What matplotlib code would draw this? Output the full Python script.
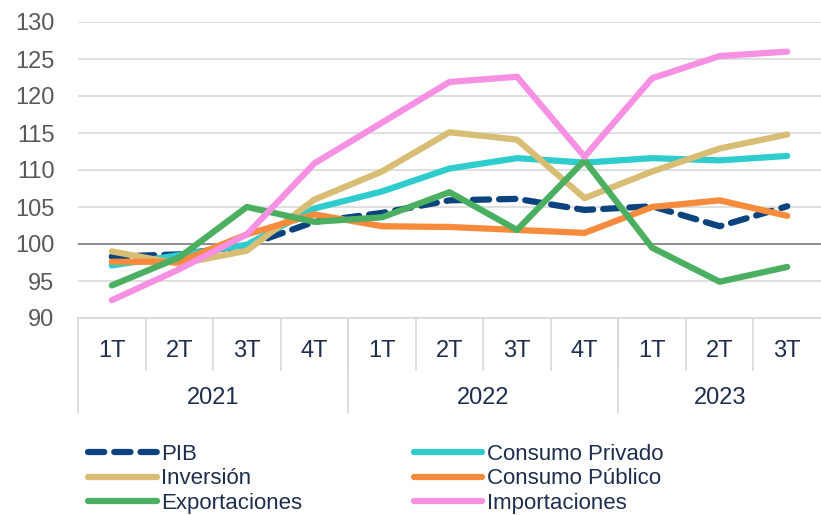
import matplotlib
matplotlib.use('Agg')
import matplotlib.pyplot as plt
import matplotlib.transforms as mtransforms

quarters = ['1T', '2T', '3T', '4T', '1T', '2T', '3T', '4T', '1T', '2T', '3T']
years = ['2021', '2022', '2023']
year_len = [4, 4, 3]

pib = [98.3, 98.6, 99.8, 103.0, 104.2, 105.9, 106.1, 104.6, 105.1, 102.4, 105.1]
cons_priv = [97.1, 98.5, 99.9, 104.8, 107.1, 110.2, 111.6, 111.0, 111.6, 111.3, 111.9]
inversion = [99.0, 97.3, 99.1, 106.0, 109.8, 115.1, 114.1, 106.2, 109.8, 112.9, 114.8]
cons_pub = [97.6, 97.6, 101.3, 104.0, 102.4, 102.3, 101.9, 101.5, 105.0, 105.9, 103.8]
export = [94.4, 98.2, 105.0, 103.0, 103.6, 107.0, 101.9, 111.3, 99.5, 94.9, 96.9]
importac = [92.4, 96.6, 101.3, 110.9, 116.4, 121.9, 122.6, 111.8, 122.4, 125.4, 126.0]

plt.rcParams['font.family'] = ['Liberation Sans', 'DejaVu Sans']

fig = plt.figure(figsize=(8.21, 5.15), dpi=100)
ax = fig.add_axes([78/821, 1-318/515, 1-78/821, 296/515])

x = list(range(len(quarters)))
ax.plot(x, pib, color='#0B437F', lw=4.5, ls=(0, (2.6, 1.6)), dash_capstyle='round',
        solid_capstyle='round', label='PIB', zorder=3)
ax.plot(x, cons_priv, color='#2ECCCC', lw=4.5, solid_capstyle='round', label='Consumo Privado', zorder=3)
ax.plot(x, inversion, color='#D8BD74', lw=4.5, solid_capstyle='round', label='Inversión', zorder=3)
ax.plot(x, cons_pub, color='#F68B3C', lw=4.5, solid_capstyle='round', label='Consumo Público', zorder=3)
ax.plot(x, export, color='#4BAF62', lw=4.5, solid_capstyle='round', label='Exportaciones', zorder=3)
ax.plot(x, importac, color='#F590E3', lw=4.5, solid_capstyle='round', label='Importaciones', zorder=3)

ax.set_ylim(90, 130)
ax.set_xlim(-0.5, len(quarters) - 0.5)
ax.set_yticks(range(90, 131, 5))
ax.grid(axis='y', color='#D9D9D9', lw=1.2)
ax.axhline(100, color='#7F7F7F', lw=1.2, zorder=2)
ax.set_axisbelow(True)
for s in ax.spines.values():
    s.set_visible(False)
ax.tick_params(axis='y', length=0, labelsize=17, labelcolor='#595959', pad=17)
ax.set_xticks([])

# category axis with two levels
tr = mtransforms.blended_transform_factory(ax.transData, ax.transAxes)
sep = '#D9D9D9'
ax.plot([-0.5, len(quarters) - 0.5], [0, 0], transform=tr, color=sep, lw=1.2, clip_on=False)
for i, q in enumerate(quarters):
    ax.text(i, -0.111, q, transform=tr, ha='center', va='center', fontsize=17, color='#1F2D4D')
    if i > 0:
        ax.plot([i - 0.5, i - 0.5], [0, -0.176], transform=tr, color=sep, lw=1.2, clip_on=False)
start = 0
for y, n in zip(years, year_len):
    ax.text(start + n / 2 - 0.5, -0.27, y, transform=tr, ha='center', va='center', fontsize=17, color='#1F2D4D')
    ax.plot([start - 0.5, start - 0.5], [0, -0.32], transform=tr, color=sep, lw=1.2, clip_on=False)
    start += n

h, l = ax.get_legend_handles_labels()
order = [0, 2, 4, 1, 3, 5]
leg = fig.legend([h[i] for i in order], [l[i] for i in order], ncol=2,
                 loc='upper left', bbox_to_anchor=(88/821, 1-444/515), frameon=False,
                 fontsize=16, handlelength=3.1, handletextpad=0.2, labelspacing=0.15,
                 columnspacing=5.0, borderaxespad=0, borderpad=0)
for t in leg.get_texts():
    t.set_color('#1F2D4D')

fig.savefig('out.png', dpi=100)
